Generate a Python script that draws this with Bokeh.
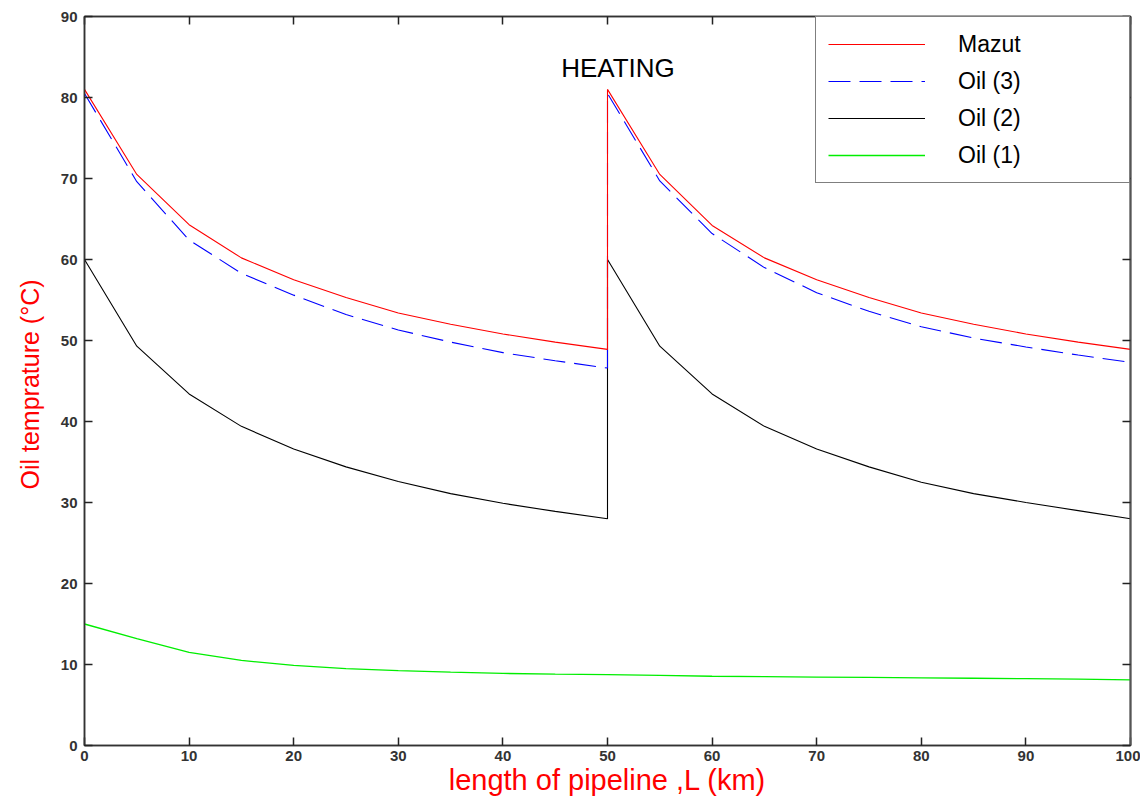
from bokeh.plotting import figure
from bokeh.models import (Range1d, LinearAxis, FixedTicker, Legend, LegendItem,
                          Label, CustomJSTickFormatter)
from bokeh.embed import file_html
from bokeh.resources import INLINE

# ---- data (length in km, temperature in degC); x=50 repeated at the heating station
distance = [0, 5, 10, 15, 20, 25, 30, 35, 40, 45, 50,
            50, 55, 60, 65, 70, 75, 80, 85, 90, 95, 100]
mazut = [81.0, 70.5, 64.3, 60.2, 57.5, 55.3, 53.4, 52.0, 50.8, 49.8, 48.9,
         81.0, 70.5, 64.2, 60.2, 57.5, 55.3, 53.4, 52.0, 50.8, 49.8, 48.9]
oil3 = [80.5, 69.6, 62.4, 58.3, 55.6, 53.2, 51.3, 49.8, 48.5, 47.5, 46.6,
        80.5, 69.7, 63.2, 59.0, 55.9, 53.6, 51.7, 50.3, 49.2, 48.2, 47.3]
oil2 = [60.0, 49.3, 43.4, 39.4, 36.6, 34.4, 32.6, 31.1, 29.9, 28.9, 28.0,
        60.0, 49.3, 43.4, 39.4, 36.6, 34.4, 32.5, 31.1, 30.0, 29.0, 28.0]
oil1 = [15.0, 13.2, 11.5, 10.5, 9.9, 9.5, 9.25, 9.05, 8.9, 8.8, 8.75,
        8.75, 8.65, 8.55, 8.5, 8.45, 8.4, 8.35, 8.3, 8.25, 8.2, 8.1]

x_ticks = list(range(0, 101, 10))
y_ticks = list(range(0, 91, 10))

FONT = "Liberation Sans"
TICK_COLOR = "#333333"

p = figure(width=1140, height=798, output_backend="svg", toolbar_location=None,
           x_range=Range1d(0, 100), y_range=Range1d(0, 90),
           min_border_left=84, min_border_right=10, min_border_top=16,
           min_border_bottom=52)
p.xgrid.visible = False
p.ygrid.visible = False
p.outline_line_color = "#333333"
p.outline_line_width = 1.5
p.background_fill_color = "white"
p.border_fill_color = "white"

def style_axis(ax, ticks):
    ax.ticker = FixedTicker(ticks=ticks)
    ax.major_tick_in = 8
    ax.major_tick_out = 0
    ax.minor_tick_line_color = None
    ax.major_tick_line_color = "#222222"
    ax.major_tick_line_width = 1.5
    ax.axis_line_color = "#333333"
    ax.axis_line_width = 1.5
    ax.major_label_text_font = FONT
    ax.major_label_text_font_style = "bold"
    ax.major_label_text_font_size = "15px"
    ax.major_label_text_color = TICK_COLOR

style_axis(p.xaxis[0], x_ticks)
style_axis(p.yaxis[0], y_ticks)
p.xaxis[0].major_label_standoff = 5
p.yaxis[0].major_label_standoff = 7

p.xaxis[0].axis_label = "length of pipeline ,L (km)"
p.xaxis[0].axis_label_text_font = FONT
p.xaxis[0].axis_label_text_font_size = "29px"
p.xaxis[0].axis_label_text_font_style = "normal"
p.xaxis[0].axis_label_text_color = "#ff0000"
p.xaxis[0].axis_label_standoff = 0

p.yaxis[0].axis_label = "Oil temprature  (\u00b0C)"
p.yaxis[0].axis_label_text_font = FONT
p.yaxis[0].axis_label_text_font_size = "25px"
p.yaxis[0].axis_label_text_font_style = "normal"
p.yaxis[0].axis_label_text_color = "#ff0000"
p.yaxis[0].axis_label_standoff = 14

blank = CustomJSTickFormatter(code="return ''")
top = LinearAxis(formatter=blank, major_label_standoff=0)
style_axis(top, x_ticks)
right = LinearAxis(formatter=blank, major_label_standoff=0)
style_axis(right, y_ticks)
right.axis_line_color = "#555555"
right.axis_line_width = 2
p.add_layout(top, "above")
p.add_layout(right, "right")

r_oil1 = p.line(distance, oil1, line_color="#00ee00", line_width=1.3)
r_oil2 = p.line(distance, oil2, line_color="#000000", line_width=1.1)
r_oil3 = p.line(distance, oil3, line_color="#0000ff", line_width=1.1, line_dash="22 9")
r_maz = p.line(distance, mazut, line_color="#ff0000", line_width=1.1)

p.add_layout(Label(x=51, y=83.7, text="HEATING", text_font=FONT,
                   text_font_size="26px", text_color="#000000",
                   text_align="center", text_baseline="middle"))

legend = Legend(items=[
    LegendItem(label="Mazut", renderers=[r_maz]),
    LegendItem(label="Oil (3)", renderers=[r_oil3]),
    LegendItem(label="Oil (2)", renderers=[r_oil2]),
    LegendItem(label="Oil (1)", renderers=[r_oil1]),
], location="top_right")
legend.margin = 0
legend.padding = 12
legend.spacing = 7
legend.glyph_height = 30
legend.glyph_width = 97
legend.label_standoff = 33
legend.label_width = 159
legend.label_height = 30
legend.label_text_font = FONT
legend.label_text_font_size = "23px"
legend.label_text_color = "#000000"
legend.border_line_color = "#000000"
legend.border_line_width = 1.5
legend.background_fill_color = "white"
legend.background_fill_alpha = 1.0
p.add_layout(legend)

open("out.html", "w").write(file_html(p, INLINE))
